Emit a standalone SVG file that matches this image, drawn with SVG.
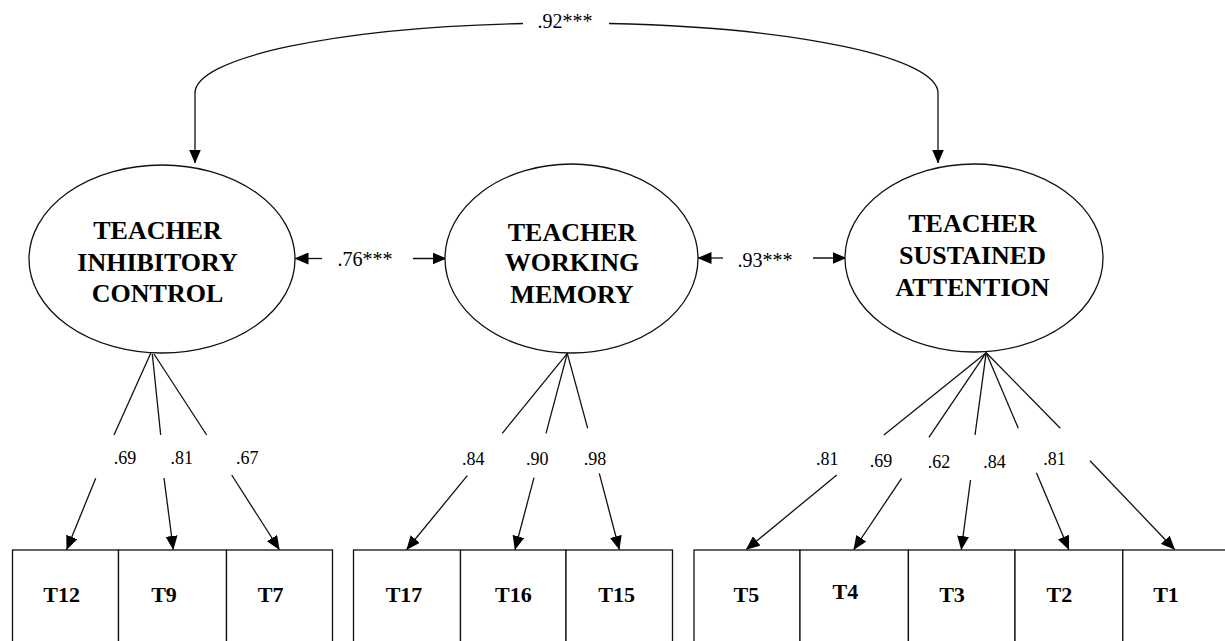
<svg xmlns="http://www.w3.org/2000/svg" width="1225" height="641" viewBox="0 0 1225 641">
<defs>
<marker id="ah" viewBox="0 0 14 12" markerWidth="14" markerHeight="12" refX="13.5" refY="6" orient="auto" markerUnits="userSpaceOnUse">
<path d="M0,0 L14,6 L0,12 Z" fill="#000"/>
</marker>
<style>
.lat{fill:#fff;stroke:#111;stroke-width:1.3}
.box{fill:#fff;stroke:#111;stroke-width:1.3}
.ln{fill:none;stroke:#111;stroke-width:1.3}
.arr{fill:none;stroke:#111;stroke-width:1.3;marker-end:url(#ah)}
text{font-family:"Liberation Serif","Times New Roman",serif;fill:#000;text-anchor:middle}
.lt{font-weight:bold;font-size:26px}
.ot{font-weight:bold;font-size:22px}
.ld{font-size:18px}
.cr{font-size:20px}
</style>
</defs>
<rect width="1225" height="641" fill="#fff"/>

<g id="connectors">
<path class="arr" d="M523,23.5 A371,70 0 0 0 195,93 L195,163"/>
<path class="arr" d="M609,23.5 A371,70 0 0 1 938,93 L938,163"/>
<text class="cr" x="565" y="28">.92***</text>

<line class="arr" x1="322" y1="258.5" x2="295" y2="258.5"/>
<line class="arr" x1="413" y1="258.5" x2="446" y2="258.5"/>
<text class="cr" x="365" y="266">.76***</text>
<line class="arr" x1="723" y1="258" x2="698" y2="258"/>
<line class="arr" x1="813" y1="258" x2="846" y2="258"/>
<text class="cr" x="765" y="266.5">.93***</text>

<line class="ln" x1="150.7" y1="353.3" x2="114" y2="435"/>
<line class="arr" x1="95.7" y1="478.3" x2="66.7" y2="549.5"/>
<line class="ln" x1="152.3" y1="354" x2="160.7" y2="435"/>
<line class="arr" x1="164" y1="478" x2="173.3" y2="549.5"/>
<line class="ln" x1="154" y1="354" x2="206.7" y2="435"/>
<line class="arr" x1="231.7" y1="475" x2="279.3" y2="549.5"/>
<text class="ld" x="125" y="464">.69</text>
<text class="ld" x="181.7" y="464">.81</text>
<text class="ld" x="247.3" y="464">.67</text>

<line class="ln" x1="567.3" y1="353.3" x2="502.3" y2="433.3"/>
<line class="arr" x1="467.3" y1="475.7" x2="406.7" y2="549.5"/>
<line class="ln" x1="567.3" y1="353.3" x2="546" y2="433.3"/>
<line class="arr" x1="534" y1="477.7" x2="515" y2="549.5"/>
<line class="ln" x1="567.3" y1="353.3" x2="587.7" y2="428.3"/>
<line class="arr" x1="599.3" y1="473.3" x2="619.3" y2="549.5"/>
<text class="ld" x="473.3" y="465">.84</text>
<text class="ld" x="537.3" y="465">.90</text>
<text class="ld" x="595" y="465">.98</text>

<line class="ln" x1="986.2" y1="352.7" x2="883.9" y2="435"/>
<line class="arr" x1="836.8" y1="475" x2="746.3" y2="549.5"/>
<line class="ln" x1="986.2" y1="352.7" x2="928.9" y2="437.3"/>
<line class="arr" x1="901.6" y1="478.3" x2="853.8" y2="549.5"/>
<line class="ln" x1="986.2" y1="352.7" x2="975" y2="435"/>
<line class="arr" x1="970.5" y1="480" x2="961.3" y2="549.5"/>
<line class="ln" x1="986.2" y1="352.7" x2="1018.3" y2="428.3"/>
<line class="arr" x1="1036.4" y1="472.7" x2="1068.8" y2="549.5"/>
<line class="ln" x1="986.2" y1="352.7" x2="1060.3" y2="428.3"/>
<line class="arr" x1="1090" y1="460.7" x2="1174.6" y2="549.5"/>
<text class="ld" x="827.2" y="465">.81</text>
<text class="ld" x="881" y="466.7">.69</text>
<text class="ld" x="939" y="468.3">.62</text>
<text class="ld" x="994.4" y="467.7">.84</text>
<text class="ld" x="1054.5" y="465">.81</text>
</g>

<g id="inhibitory">
<ellipse class="lat" cx="162" cy="259" rx="133" ry="94"/>
<text class="lt" x="157.5" y="239">TEACHER</text>
<text class="lt" x="157.5" y="270.5">INHIBITORY</text>
<text class="lt" x="157.5" y="302">CONTROL</text>
</g>
<g id="working">
<ellipse class="lat" cx="571.5" cy="258.5" rx="126.5" ry="94.5"/>
<text class="lt" x="572" y="240.5">TEACHER</text>
<text class="lt" x="572" y="271">WORKING</text>
<text class="lt" x="572" y="303">MEMORY</text>
</g>
<g id="sustained">
<ellipse class="lat" cx="974" cy="258" rx="129" ry="94"/>
<text class="lt" x="972.5" y="232">TEACHER</text>
<text class="lt" x="972.5" y="263.5">SUSTAINED</text>
<text class="lt" x="972.5" y="295.5">ATTENTION</text>
</g>

<g id="T12"><rect class="box" x="12.5" y="550" width="106" height="110"/><text class="ot" x="61.7" y="601.5">T12</text></g>
<g id="T9"><rect class="box" x="118.5" y="550" width="108" height="110"/><text class="ot" x="164" y="601.5">T9</text></g>
<g id="T7"><rect class="box" x="226.5" y="550" width="106" height="110"/><text class="ot" x="270.7" y="601.5">T7</text></g>

<g id="T17"><rect class="box" x="353.5" y="550" width="107" height="110"/><text class="ot" x="404" y="601.5">T17</text></g>
<g id="T16"><rect class="box" x="460.5" y="550" width="105.5" height="110"/><text class="ot" x="513.3" y="601.5">T16</text></g>
<g id="T15"><rect class="box" x="566" y="550" width="106.5" height="110"/><text class="ot" x="616.7" y="601.5">T15</text></g>

<g id="T5"><rect class="box" x="694" y="550" width="106" height="110"/><text class="ot" x="746.3" y="601.5">T5</text></g>
<g id="T4"><rect class="box" x="800" y="550" width="108.4" height="110"/><text class="ot" x="845.3" y="598.5">T4</text></g>
<g id="T3"><rect class="box" x="908.4" y="550" width="106.6" height="110"/><text class="ot" x="952" y="601.5">T3</text></g>
<g id="T2"><rect class="box" x="1015" y="550" width="107.8" height="110"/><text class="ot" x="1059.3" y="601.5">T2</text></g>
<g id="T1"><rect class="box" x="1122.8" y="550" width="104" height="110"/><text class="ot" x="1166" y="601.5">T1</text></g>
</svg>
